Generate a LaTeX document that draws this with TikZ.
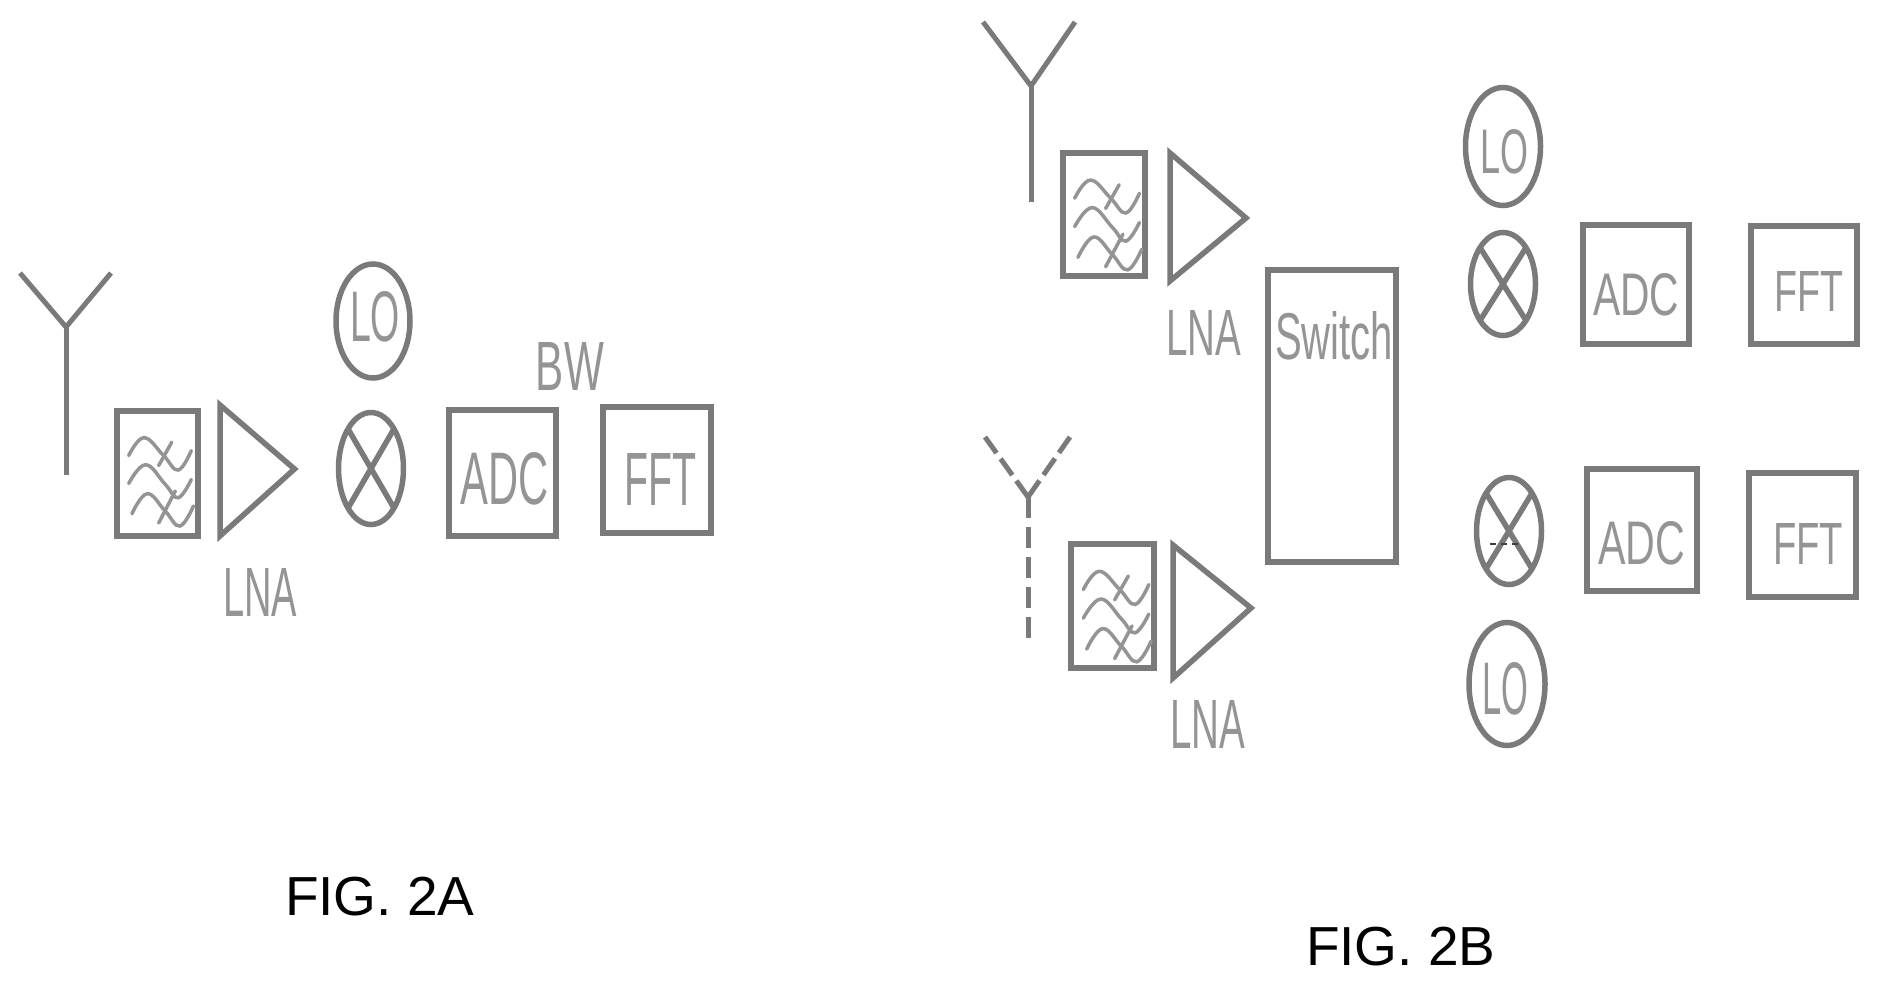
\documentclass[tikz,border=0pt]{standalone}
\usepackage{graphicx}
\usepackage{fontspec}
\setmainfont{Liberation Sans}
\usetikzlibrary{shapes.geometric}
\definecolor{ink}{gray}{0.48}
\definecolor{tink}{gray}{0.58}
\newcommand{\fitted}[3]{\resizebox{#1pt}{#2pt}{#3}}
\tikzset{
  x=1pt,y=-1pt,
  figbox/.style={draw=ink,line width=6pt,rectangle,inner sep=0pt,outer sep=0pt,fill=none},
  circ/.style={draw=ink,line width=5.5pt,ellipse,inner sep=0pt,outer sep=0pt},
  aerial/.style={draw=ink,line width=5pt},
  amp/.style={draw=ink,line width=5.5pt,line join=miter},
  crossline/.style={draw=ink,line width=5.5pt},
  lbl/.style={text=tink,inner sep=0pt,outer sep=0pt},
  figcaption/.style={text=black,inner sep=0pt,outer sep=0pt,font=\fontsize{55pt}{60pt}\selectfont},
  wave/.style={draw=tink,line width=3.5pt,line cap=round},
  filterwaves/.pic={
    \draw[wave] plot[smooth,tension=0.7] coordinates {(.138,.351) (.318,.21) (.548,.351) (.72,.465) (.874,.312)};
    \draw[wave] (.644,.246) -- (.49,.43);
    \draw[wave] plot[smooth,tension=0.7] coordinates {(.138,.571) (.337,.423) (.567,.577) (.72,.683) (.874,.539)};
    \draw[wave] plot[smooth,tension=0.7] coordinates {(.176,.809) (.356,.651) (.567,.788) (.74,.906) (.90,.747)};
    \draw[wave] (.686,.63) -- (.49,.882);
  }
}
\begin{document}
\begin{tikzpicture}
\useasboundingbox (0,0) rectangle (1882,986);

% ---------- FIG. 2A ----------
\coordinate (aL) at (20,273);
\coordinate (aR) at (111,273);
\coordinate (aJ) at (66,327);
\coordinate (aB) at (66,475);
\draw[aerial] (aL) -- (aJ) -- (aR);
\draw[aerial] (aJ) -- (aB);

\node[figbox,minimum width=81pt,minimum height=125pt] (fA) at (157.5,473.5) {};
\pic[x=85pt,y=-127pt] at (fA.north west) {filterwaves};
\coordinate (tA1) at (220,405);
\coordinate (tA2) at (294.5,469);
\coordinate (tA3) at (220,536);
\draw[amp] (tA1) -- (tA2) -- (tA3) -- cycle;
\node[lbl] (lnaA) at (260,592) {\fitted{74}{48}{LNA}};

\node[circ,minimum width=74pt,minimum height=114pt] (loA) at (373,321) {};
\node[lbl] (loAt) at (375,317) {\fitted{50}{50}{LO}};
\node[circ,minimum width=65pt,minimum height=112pt] (mA) at (371,468.5) {};
\draw[crossline] (mA.north west) -- (mA.south east);
\draw[crossline] (mA.north east) -- (mA.south west);

\node[figbox,minimum width=107pt,minimum height=126pt] (adcA) at (502.5,473) {};
\node[lbl] (adcAt) at (504.5,479) {\fitted{88}{52}{ADC}};
\node[figbox,minimum width=108pt,minimum height=126pt] (fftA) at (657,469.5) {};
\node[lbl] (fftAt) at (660.5,479) {\fitted{72}{52}{FFT}};
\node[lbl] (bw) at (570,366) {\fitted{68}{48}{BW}};
\node[figcaption,anchor=base west] (figA) at (285,915) {FIG. 2A};

% ---------- FIG. 2B upper ----------
\coordinate (bL) at (983,22);
\coordinate (bR) at (1075,22);
\coordinate (bJ) at (1031,86);
\coordinate (bB) at (1031,202);
\draw[aerial] (bL) -- (bJ) -- (bR);
\draw[aerial] (bJ) -- (bB);

\node[figbox,minimum width=82pt,minimum height=123pt] (fB) at (1103.5,214.5) {};
\pic[x=88pt,y=-129pt] at (fB.north west) {filterwaves};
\coordinate (tB1) at (1170,153);
\coordinate (tB2) at (1246,218);
\coordinate (tB3) at (1170,281);
\draw[amp] (tB1) -- (tB2) -- (tB3) -- cycle;
\node[lbl] (lnaB) at (1204,332.5) {\fitted{75}{45}{LNA}};

% ---------- switch ----------
\node[figbox,minimum width=128pt,minimum height=292pt] (sw) at (1331.5,416) {};
\node[lbl] (swt) at (1334,336) {\fitted{118}{48}{Switch}};

% ---------- FIG. 2B lower ----------
\coordinate (cL) at (985,437);
\coordinate (cR) at (1070,437);
\coordinate (cJ) at (1028,497);
\coordinate (cB) at (1028,640);
\draw[aerial,dash pattern=on 20pt off 7pt] (cJ) -- (cL);
\draw[aerial,dash pattern=on 20pt off 7pt] (cJ) -- (cR);
\draw[aerial,dash pattern=on 21pt off 9pt] (cJ) -- (cB);

\node[figbox,minimum width=83pt,minimum height=124pt] (fC) at (1112.5,606) {};
\pic[x=89pt,y=-130pt] at (fC.north west) {filterwaves};
\coordinate (tC1) at (1173,545);
\coordinate (tC2) at (1251,608);
\coordinate (tC3) at (1173,678);
\draw[amp] (tC1) -- (tC2) -- (tC3) -- cycle;
\node[lbl] (lnaC) at (1208,724) {\fitted{75}{48}{LNA}};

% ---------- mixers, converters, right column ----------
\node[circ,minimum width=75pt,minimum height=118pt] (loB) at (1503,146.5) {};
\node[lbl] (loBt) at (1504,152) {\fitted{48}{44}{LO}};
\node[circ,minimum width=65pt,minimum height=103pt] (mB) at (1503,284) {};
\draw[crossline] (mB.north west) -- (mB.south east);
\draw[crossline] (mB.north east) -- (mB.south west);
\node[figbox,minimum width=106pt,minimum height=119pt] (adcB) at (1636,284.5) {};
\node[lbl] (adcBt) at (1636,295) {\fitted{86}{42}{ADC}};
\node[figbox,minimum width=106pt,minimum height=118pt] (fftB) at (1804,285) {};
\node[lbl] (fftBt) at (1808.5,291) {\fitted{69}{40}{FFT}};

\node[circ,minimum width=65pt,minimum height=107pt] (mC) at (1509,531) {};
\draw[crossline] (mC.north west) -- (mC.south east);
\draw[crossline] (mC.north east) -- (mC.south west);
\coordinate (mCl) at (1490,544);
\coordinate (mCr) at (1522,544);
\draw[draw=black!75,line width=1.5pt,dash pattern=on 6pt off 5pt] (mCl) -- (mCr);
\node[figbox,minimum width=110pt,minimum height=122pt] (adcC) at (1642,530) {};
\node[lbl] (adcCt) at (1641.5,543) {\fitted{87}{43}{ADC}};
\node[figbox,minimum width=107pt,minimum height=124pt] (fftC) at (1802,535) {};
\node[lbl] (fftCt) at (1808,543.5) {\fitted{70}{41}{FFT}};
\node[circ,minimum width=76pt,minimum height=123pt] (loC) at (1507,684) {};
\node[lbl] (loCt) at (1505,689) {\fitted{46}{52}{LO}};
\node[figcaption,anchor=base west] (figB) at (1306,965) {FIG. 2B};
\end{tikzpicture}
\end{document}
